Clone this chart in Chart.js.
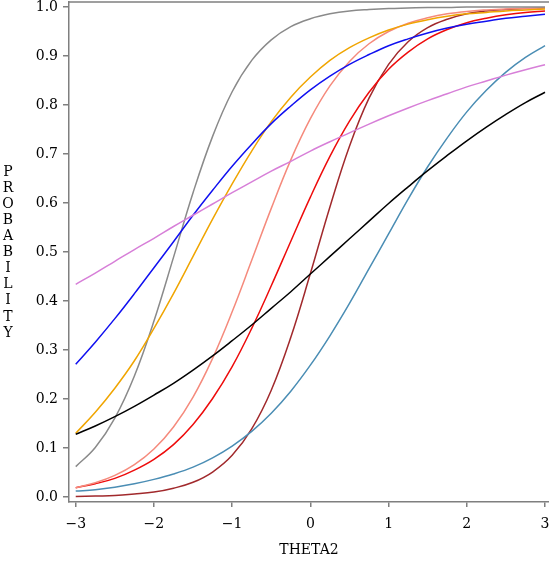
<!DOCTYPE html>
<html>
<head>
<meta charset="utf-8">
<script src="https://cdn.jsdelivr.net/npm/chart.js@4/dist/chart.umd.min.js"></script>
<style>
  html, body { margin: 0; padding: 0; background: #fff; }
  #wrap { width: 549px; height: 565px; }
</style>
</head>
<body>
<div id="wrap"><canvas id="icc"></canvas></div>
<script>
var theta = [-3, -2.75, -2.5, -2.25, -2, -1.75, -1.5, -1.25, -1, -0.75, -0.5, -0.25, 0,
             0.25, 0.5, 0.75, 1, 1.25, 1.5, 1.75, 2, 2.25, 2.5, 2.75, 3];

// probability per item curve
var gray   = [0.062, 0.101, 0.161, 0.247, 0.359, 0.489, 0.621, 0.736, 0.827, 0.891, 0.933, 0.960, 0.976,
              0.986, 0.992, 0.995, 0.997, 0.998, 0.999, 0.999, 1.000, 1.000, 1.000, 1.000, 1.000];
var orange = [0.130, 0.173, 0.222, 0.278, 0.344, 0.415, 0.491, 0.567, 0.639, 0.706, 0.766, 0.816, 0.857,
              0.891, 0.917, 0.937, 0.953, 0.965, 0.974, 0.981, 0.986, 0.989, 0.992, 0.994, 0.996];
var blue   = [0.271, 0.316, 0.364, 0.415, 0.468, 0.521, 0.575, 0.626, 0.675, 0.720, 0.762, 0.798, 0.831,
              0.859, 0.883, 0.903, 0.921, 0.935, 0.947, 0.957, 0.965, 0.971, 0.977, 0.981, 0.985];
var violet = [0.434, 0.457, 0.481, 0.505, 0.528, 0.552, 0.575, 0.598, 0.621, 0.643, 0.665, 0.685, 0.706,
              0.725, 0.743, 0.761, 0.778, 0.794, 0.809, 0.823, 0.837, 0.849, 0.861, 0.872, 0.882];
var black  = [0.128, 0.145, 0.164, 0.185, 0.208, 0.232, 0.259, 0.288, 0.319, 0.351, 0.385, 0.419, 0.455,
              0.491, 0.527, 0.563, 0.599, 0.633, 0.666, 0.697, 0.727, 0.755, 0.781, 0.805, 0.826];
var salmon = [0.019, 0.029, 0.044, 0.066, 0.098, 0.143, 0.204, 0.283, 0.378, 0.483, 0.589, 0.688, 0.772,
              0.839, 0.889, 0.925, 0.950, 0.967, 0.978, 0.986, 0.991, 0.994, 0.996, 0.997, 0.998];
var red    = [0.019, 0.027, 0.038, 0.055, 0.077, 0.107, 0.148, 0.201, 0.266, 0.344, 0.431, 0.522, 0.612,
              0.695, 0.767, 0.826, 0.873, 0.908, 0.935, 0.954, 0.968, 0.977, 0.984, 0.989, 0.992];
var brown  = [0.001, 0.002, 0.003, 0.006, 0.010, 0.018, 0.030, 0.051, 0.085, 0.139, 0.218, 0.326, 0.456,
              0.592, 0.716, 0.814, 0.883, 0.929, 0.958, 0.975, 0.986, 0.992, 0.995, 0.997, 0.998];
var teal   = [0.012, 0.015, 0.020, 0.027, 0.036, 0.047, 0.061, 0.080, 0.104, 0.134, 0.171, 0.216, 0.269,
              0.329, 0.395, 0.466, 0.537, 0.608, 0.674, 0.733, 0.786, 0.830, 0.867, 0.897, 0.921];

var xTicks = [-3, -2, -1, 0, 1, 2, 3];
var yTicks = [0, 0.1, 0.2, 0.3, 0.4, 0.5, 0.6, 0.7, 0.8, 0.9, 1.0];
var yTitle = 'PROBABILITY';
var xTitle = 'THETA2';

var axisColor = '#7f7f7f';
var fontFam = '"DejaVu Serif", serif';

function curve(vals, color) {
  return {
    data: theta.map(function (t, i) { return { x: t, y: vals[i] }; }),
    borderColor: color,
    borderWidth: 1.5,
    pointRadius: 0,
    fill: false,
    tension: 0.4
  };
}

// stacked vertical y title + top frame line
var extras = {
  id: 'extras',
  afterDraw: function (chart) {
    var ctx = chart.ctx, a = chart.chartArea;
    ctx.save();
    ctx.strokeStyle = axisColor;
    ctx.lineWidth = 1.5;
    ctx.beginPath();
    ctx.moveTo(a.left, a.top);
    ctx.lineTo(a.right, a.top);
    ctx.stroke();
    ctx.fillStyle = '#000';
    ctx.font = '14px ' + fontFam;
    ctx.textAlign = 'center';
    ctx.textBaseline = 'middle';
    for (var i = 0; i < yTitle.length; i++) {
      ctx.fillText(yTitle[i], 8, 172 + i * 16.1);
    }
    ctx.restore();
  }
};

new Chart(document.getElementById('icc'), {
  type: 'line',
  data: {
    datasets: [
      curve(violet, '#d77fd8'),
      curve(black, '#000000'),
      curve(teal, '#4a8db4'),
      curve(blue, '#1010f0'),
      curve(orange, '#f0a500'),
      curve(gray, '#8a8a8a'),
      curve(salmon, '#f58a7c'),
      curve(red, '#ee0b0b'),
      curve(brown, '#a1292c')
    ]
  },
  options: {
    responsive: true,
    maintainAspectRatio: false,
    animation: false,
    layout: { padding: { top: 2, right: 0, left: 0, bottom: 0 } },
    plugins: {
      legend: { display: false },
      tooltip: { enabled: false }
    },
    scales: {
      x: {
        type: 'linear',
        min: -3.086,
        max: 3.051,
        afterBuildTicks: function (s) { s.ticks = xTicks.map(function (v) { return { value: v }; }); },
        afterFit: function (s) { s.height = 63; s.paddingLeft = 0; s.paddingRight = 0; },
        ticks: {
          color: '#000',
          font: { family: fontFam, size: 14 },
          padding: 9,
          maxRotation: 0,
          callback: function (v) { return v < 0 ? '\u2212' + Math.abs(v) : String(v); }
        },
        grid: { drawOnChartArea: false, drawTicks: true, tickLength: 5, color: axisColor, lineWidth: 1.5 },
        border: { display: true, color: axisColor, width: 1.5 },
        title: {
          display: true,
          text: xTitle,
          color: '#000',
          font: { family: fontFam, size: 14 },
          padding: { top: 4, bottom: 6 }
        }
      },
      y: {
        min: -0.0102,
        max: 1.0102,
        afterBuildTicks: function (s) { s.ticks = yTicks.map(function (v) { return { value: v }; }); },
        afterFit: function (s) { s.width = 69; s.paddingTop = 0; s.paddingBottom = 0; },
        ticks: {
          color: '#000',
          font: { family: fontFam, size: 14 },
          padding: 5,
          callback: function (v) { return v.toFixed(1); }
        },
        grid: { drawOnChartArea: false, drawTicks: true, tickLength: 6, color: axisColor, lineWidth: 1.5 },
        border: { display: true, color: axisColor, width: 1.5 }
      }
    }
  },
  plugins: [extras]
});
</script>
</body>
</html>
